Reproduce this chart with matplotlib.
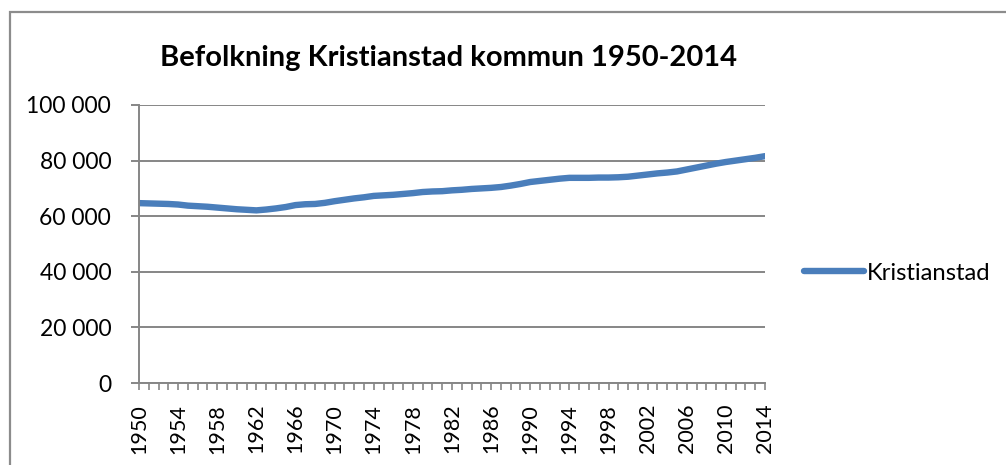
import matplotlib
matplotlib.use('Agg')
import matplotlib.pyplot as plt
import matplotlib.patches as patches
from matplotlib.ticker import FuncFormatter, MultipleLocator

plt.rcParams['font.family'] = ['Lato', 'DejaVu Sans']

# Befolkning per år
years = list(range(1950, 2015))
population = [
    64700, 64600, 64500, 64400, 64200, 63800, 63600, 63400, 63100, 62800,  # 1950-59
    62500, 62300, 62100, 62400, 62800, 63300, 64000, 64300, 64400, 64800,  # 1960-69
    65400, 65900, 66400, 66800, 67300, 67500, 67700, 68000, 68300, 68700,  # 1970-79
    68900, 69000, 69300, 69500, 69800, 70000, 70200, 70500, 71000, 71600,  # 1980-89
    72300, 72700, 73100, 73500, 73800, 73800, 73800, 73900, 73900, 74000,  # 1990-99
    74200, 74600, 75000, 75400, 75700, 76100, 76800, 77500, 78200, 78900,  # 2000-09
    79500, 80000, 80500, 81000, 81600,                                     # 2010-14
]
series_name = 'Kristianstad'
title = 'Befolkning Kristianstad kommun 1950-2014'

W, H = 1006, 465
fig = plt.figure(figsize=(W / 100, H / 100), dpi=100)
ax = fig.add_axes([139 / W, 1 - 383 / H, (765 - 139) / W, (383 - 105) / H])

grey = '#868686'
line, = ax.plot(years, population, color='#4A7EBB', linewidth=4.6,
                solid_capstyle='round', solid_joinstyle='round', label=series_name)

ax.set_xlim(1950, 2014)
ax.set_ylim(0, 100000)
ax.yaxis.set_major_locator(MultipleLocator(20000))
ax.yaxis.set_major_formatter(FuncFormatter(lambda v, p: f'{int(v):,}'.replace(',', ' ')))
ax.set_xticks(years[::4])
ax.set_xticks(years, minor=True)
ax.set_xticklabels([str(y) for y in years[::4]], rotation=90)

ax.grid(axis='y', color=grey, linewidth=1.4)
ax.set_axisbelow(True)
for s in ['top', 'right']:
    ax.spines[s].set_visible(False)
for s in ['left', 'bottom']:
    ax.spines[s].set_color(grey)
    ax.spines[s].set_linewidth(1.4)

ax.tick_params(axis='y', length=6, width=1.4, color=grey, labelsize=16.5, pad=14)
ax.tick_params(axis='x', which='both', direction='out', length=5, width=1.2, color=grey,
               labelsize=15.5, pad=10)

fig.text(449 / W, 1 - 58 / H, title, ha='center', va='center',
         fontsize=21, fontweight='bold')

fig.legend(handles=[line], loc='center left', bbox_to_anchor=(804 / W, 1 - 273 / H),
           frameon=False, fontsize=17.2, handlelength=2.5, handletextpad=0.15,
           borderaxespad=0, borderpad=0)

# yttre ram kring diagramområdet
fig.patches.append(patches.Rectangle((10 / W, -0.1), 1.2, 0.1 + 1 - 12 / H,
                                     transform=fig.transFigure, fill=False,
                                     edgecolor='#8c8c8c', linewidth=1.6))

plt.savefig('out.png', dpi=100)
